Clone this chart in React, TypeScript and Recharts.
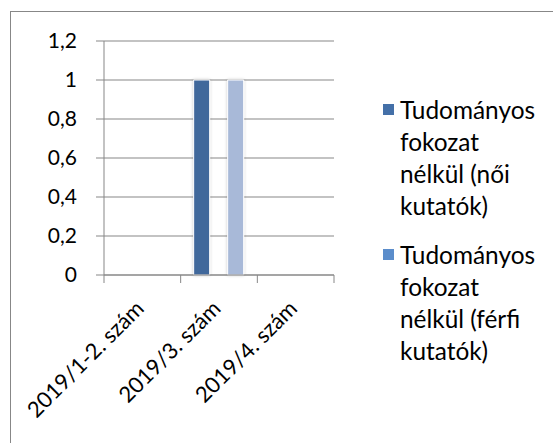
import { BarChart, Bar, XAxis, YAxis, CartesianGrid, Legend } from "recharts";

const issues = ["2019/1-2. szám", "2019/3. szám", "2019/4. szám"];
const womenNoDegree = [null, 1, null];
const menNoDegree = [null, 1, null];
const seriesNames = [
  "Tudományos fokozat nélkül (női kutatók)",
  "Tudományos fokozat nélkül (férfi kutatók)",
];
const valueTicks = [0, 0.2, 0.4, 0.6, 0.8, 1, 1.2];

const BAR_COLORS = ["#41679B", "#A8B9D8"];
const LEGEND_COLORS = ["#4470A8", "#5B8DCB"];
const AXIS_GRAY = "#878787";

const data = issues.map((issue, i) => ({
  issue,
  women: womenNoDegree[i],
  men: menNoDegree[i],
}));

// Excel style: tick marks between categories, label rotated -45deg
function IssueTick(props: any) {
  const { x, y, payload, index, visibleTicksCount } = props;
  const half = payload.offset || 0;
  const last = index === visibleTicksCount - 1;
  const lx = x + 3;
  const ly = y + 35;
  return (
    <g>
      <line x1={x - half} x2={x - half} y1={y} y2={y + 8} stroke={AXIS_GRAY} />
      {last && <line x1={x + half} x2={x + half} y1={y} y2={y + 8} stroke={AXIS_GRAY} />}
      <text
        x={lx}
        y={ly}
        transform={`rotate(-45 ${lx} ${ly})`}
        textAnchor="end"
        fontSize={22}
        fill="#000"
      >
        {payload.value}
      </text>
    </g>
  );
}

function renderLegend({ payload }: any) {
  // keep the series order (the Legend sorts by name otherwise)
  const items = [...(payload || [])].sort(
    (a: any, b: any) => seriesNames.indexOf(a.value) - seriesNames.indexOf(b.value)
  );
  return (
    <div>
      {items.map((entry: any, i: number) => (
        <div
          key={i}
          style={{
            position: "relative",
            paddingLeft: 17,
            marginBottom: 17,
            lineHeight: "32px",
            fontSize: 24.4,
            color: "#000",
          }}
        >
          <span
            style={{
              position: "absolute",
              left: 0,
              top: 10.5,
              width: 11,
              height: 11,
              background: LEGEND_COLORS[i],
            }}
          />
          {entry.value}
        </div>
      ))}
    </div>
  );
}

export default function App() {
  return (
    <div
      style={{
        position: "absolute",
        left: 0,
        top: 0,
        width: 553,
        height: 443,
        background: "#fff",
        fontFamily: "Lato, 'Open Sans', sans-serif",
        overflow: "hidden",
      }}
    >
      <div
        style={{
          position: "absolute",
          left: 10,
          top: 11,
          width: 560,
          height: 460,
          borderLeft: `1px solid ${AXIS_GRAY}`,
          borderTop: `1px solid ${AXIS_GRAY}`,
        }}
      />
      <BarChart
        width={553}
        height={443}
        data={data}
        margin={{ top: 41, right: 219, bottom: 0, left: 0 }}
        barSize={16}
        barGap={18}
      >
        <defs>
          <filter id="barShadow" x="-50%" y="-10%" width="200%" height="120%">
            <feDropShadow dx="0" dy="0" stdDeviation="1.5" floodColor="#000" floodOpacity="0.22" />
          </filter>
        </defs>
        <CartesianGrid vertical={false} stroke={AXIS_GRAY} />
        <XAxis
          dataKey="issue"
          stroke={AXIS_GRAY}
          tickLine={false}
          tickSize={0}
          tickMargin={0}
          interval={0}
          height={168}
          tick={<IssueTick />}
        />
        <YAxis
          width={104}
          domain={[0, 1.2]}
          ticks={valueTicks}
          tickFormatter={(v) => String(v).replace(".", ",")}
          tickSize={8}
          tickMargin={19}
          stroke={AXIS_GRAY}
          tick={{ fontSize: 21, fill: "#000" }}
        />
        <Legend
          layout="vertical"
          align="center"
          verticalAlign="middle"
          content={renderLegend}
          wrapperStyle={{ left: 383, top: 93.6, width: 160 }}
        />
        <Bar
          dataKey="women"
          name={seriesNames[0]}
          fill={BAR_COLORS[0]}
          stroke="#fff"
          strokeWidth={1}
          filter="url(#barShadow)"
          isAnimationActive={false}
        />
        <Bar
          dataKey="men"
          name={seriesNames[1]}
          fill={BAR_COLORS[1]}
          stroke="#fff"
          strokeWidth={1}
          filter="url(#barShadow)"
          isAnimationActive={false}
        />
      </BarChart>
    </div>
  );
}
